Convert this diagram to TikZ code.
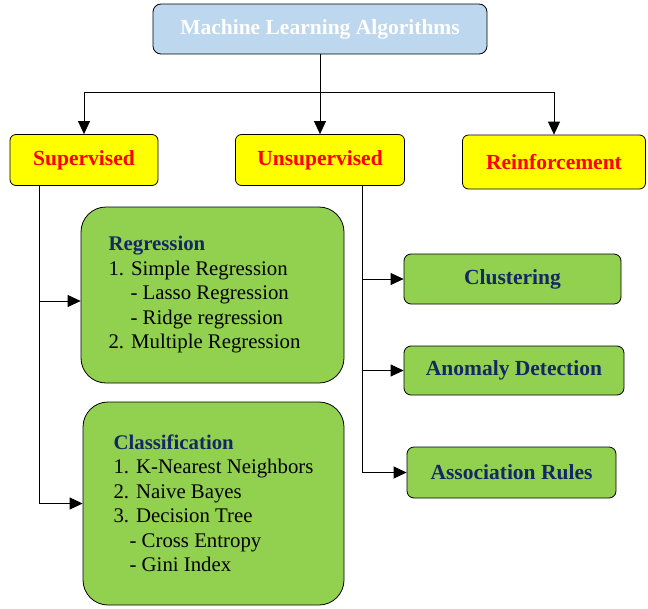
\documentclass[tikz,border=0pt]{standalone}
\usepackage{fontspec}
\setmainfont{Liberation Serif}
\usepackage{xcolor}
\definecolor{mlblue}{RGB}{189,215,238}
\definecolor{mlgreen}{RGB}{146,208,80}
\definecolor{mlyellow}{RGB}{255,255,0}
\definecolor{mlred}{RGB}{255,0,0}
\definecolor{mlnavy}{RGB}{20,40,100}
\usetikzlibrary{arrows.meta}

\begin{document}
\begin{tikzpicture}[x=1pt,y=-1pt,line width=0.8pt,>={Triangle[length=13pt,width=12pt]}]
	\tikzstyle{topbox}=[draw,fill=mlblue,rounded corners=8pt,inner sep=0pt,
		text=white,font=\fontsize{21.5}{24}\selectfont\bfseries];
	\tikzstyle{kindbox}=[draw,fill=mlyellow,rounded corners=6pt,inner sep=0pt,
		text=mlred,font=\fontsize{21.5}{24}\selectfont\bfseries];
	\tikzstyle{listbox}=[draw,fill=mlgreen,rounded corners=25pt,inner sep=0pt,
		align=left,font=\fontsize{20.8}{24.5}\selectfont];
	\tikzstyle{leafbox}=[draw,fill=mlgreen,rounded corners=7pt,inner sep=0pt,
		text=mlnavy,font=\fontsize{21.5}{24}\selectfont\bfseries];
	\newcommand{\hd}[1]{\textcolor{mlnavy}{\textbf{#1}}}
	\useasboundingbox (0,0) rectangle (648,608);
	%% Root
	\node[topbox,minimum width=334pt,minimum height=50pt] (ml) at (320,29) {Machine Learning Algorithms};
	%% Kinds of learning
	\node[kindbox,minimum width=148pt,minimum height=51pt] (sup) at (84,160) {Supervised};
	\node[kindbox,minimum width=169pt,minimum height=51pt] (uns) at (320,160) {Unsupervised};
	\node[kindbox,minimum width=183pt,minimum height=54pt] (rei) at (554,162) {Reinforcement};
	%% Supervised methods
	\node[listbox,minimum width=263pt,minimum height=176pt] (reg) at (212.5,295) {\hd{Regression}\\
		1. Simple Regression\\
		\hspace*{22pt}- Lasso Regression\\
		\hspace*{22pt}- Ridge regression\\
		2. Multiple Regression\hspace*{16pt}};
	\node[listbox,minimum width=261pt,minimum height=203pt] (cls) at (213.5,503.5) {\hd{Classification}\\
		1. K-Nearest Neighbors\\
		2. Naive Bayes\\
		3. Decision Tree\\
		\hspace*{16pt}- Cross Entropy\\
		\hspace*{16pt}- Gini Index};
	%% Unsupervised methods
	\node[leafbox,minimum width=217pt,minimum height=50pt] (clu) at (512.5,279) {Clustering};
	\node[leafbox,minimum width=220pt,minimum height=49pt] (ano) at (514,370.5) {Anomaly Detection};
	\node[leafbox,minimum width=209pt,minimum height=51pt] (ass) at (511.5,472.5) {Association Rules};
	%% Trunks
	\coordinate (split) at (320,92);
	\coordinate (strunk) at (39,0);
	\coordinate (utrunk) at (362,0);
	%% Arrows from the root
	\draw[->] (ml.south) -- (uns.north);
	\draw[->] (split) -| (sup.north);
	\draw[->] (split) -| (rei.north);
	%% Arrows to the methods
	\draw[->] (sup.south -| strunk) |- ([yshift=-6pt]reg.west);
	\draw[->] (sup.south -| strunk) |- (cls.west);
	\draw[->] (uns.south -| utrunk) |- (clu.west);
	\draw[->] (uns.south -| utrunk) |- (ano.west);
	\draw[->] (uns.south -| utrunk) |- (ass.west);
\end{tikzpicture}
\end{document}
